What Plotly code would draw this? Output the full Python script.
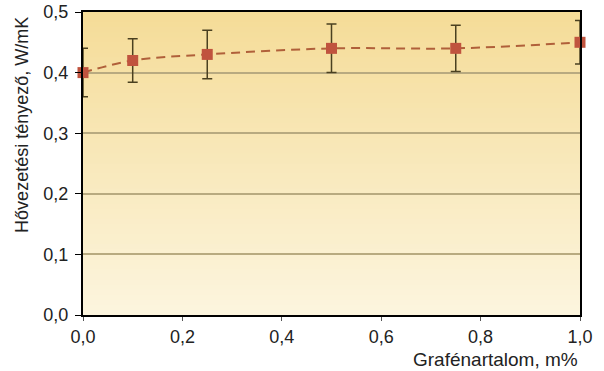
import plotly.graph_objects as go

graphite = [0.0, 0.1, 0.25, 0.5, 0.75, 1.0]
conductivity = [0.40, 0.42, 0.43, 0.44, 0.44, 0.45]
error = [0.04, 0.036, 0.04, 0.04, 0.038, 0.036]
y_ticks = [0.0, 0.1, 0.2, 0.3, 0.4, 0.5]
x_ticks = [0.0, 0.2, 0.4, 0.6, 0.8, 1.0]

top_col = (245, 220, 152)
bot_col = (252, 245, 222)

fig = go.Figure()
fig.add_trace(go.Scatter(
    x=graphite, y=conductivity, mode="lines+markers",
    line=dict(color="#b0603a", width=2, dash="9px,6px", shape="spline"),
    marker=dict(symbol="square", size=11, color="#c0533e"),
    error_y=dict(type="data", array=error, visible=True, color="#4a4020", thickness=1.5, width=5),
    cliponaxis=False, showlegend=False,
))

shapes = []
n = 60
for i in range(n):
    t = i / (n - 1)
    c = tuple(round(bot_col[k] + (top_col[k] - bot_col[k]) * t) for k in range(3))
    shapes.append(dict(type="rect", xref="x domain", yref="y domain",
                       x0=0, x1=1, y0=i / n, y1=min(1, (i + 2) / n),
                       fillcolor="rgb(%d,%d,%d)" % c, line=dict(width=0), layer="below"))

fig.update_layout(
    width=604, height=371,
    margin=dict(l=83, r=24, t=12, b=56, autoexpand=False),
    paper_bgcolor="white", plot_bgcolor="rgba(0,0,0,0)",
    separators=", ",
    font=dict(family="Liberation Sans, Arial, sans-serif", size=18, color="#222"),
    shapes=shapes,
    xaxis=dict(range=[0, 1], tickvals=x_ticks, tickformat=".1f", showgrid=False,
               zeroline=False, showline=True, linecolor="black", linewidth=2, mirror=True,
               ticks="outside", ticklen=4, tickcolor="#555", tickfont=dict(size=18),
               ticklabelstandoff=0, automargin=False),
    yaxis=dict(range=[0, 0.5], tickvals=y_ticks, tickformat=".1f", showgrid=True,
               gridcolor="#b8aa80", gridwidth=1.5, zeroline=False, showline=True,
               linecolor="black", linewidth=2, mirror=True,
               ticks="outside", ticklen=6, tickcolor="black", tickfont=dict(size=18),
               ticklabelstandoff=3, automargin=False),
    annotations=[
        dict(text="Grafénartalom, m%", xref="paper", yref="paper", x=1.0, y=-0.106,
             xanchor="right", yanchor="top", showarrow=False, font=dict(size=19)),
        dict(text="Hővezetési tényező, W/mK", xref="paper", yref="paper", x=-0.123, y=0.627,
             xanchor="center", yanchor="middle", textangle=-90, showarrow=False,
             font=dict(size=18)),
    ],
)
fig.write_html("out.html", config={"displayModeBar": False},
               post_script="document.body.style.margin='0';document.body.style.overflow='hidden';")
